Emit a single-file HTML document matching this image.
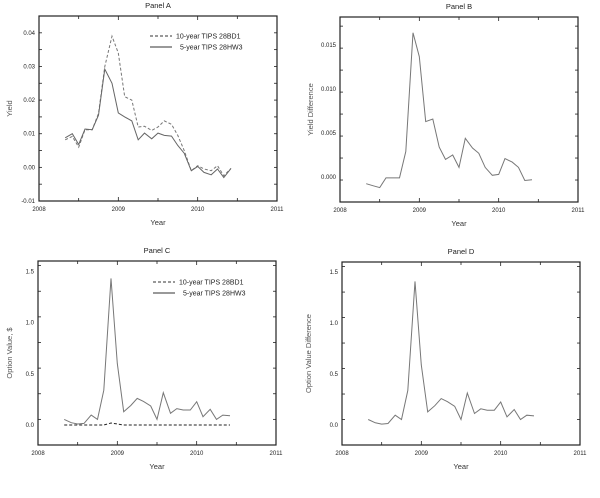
<!DOCTYPE html>
<html><head><meta charset="utf-8"><style>
body{margin:0;background:#fff;width:600px;height:493px;overflow:hidden}
svg{font-family:"Liberation Sans",sans-serif}
</style></head><body>
<svg id="c" width="600" height="493" viewBox="0 0 600 493"></svg>
<script>
const months = [2008.33,2008.42,2008.5,2008.58,2008.67,2008.75,2008.83,2008.92,2009.0,2009.08,2009.17,2009.25,2009.33,2009.42,2009.5,2009.58,2009.67,2009.75,2009.83,2009.92,2010.0,2010.08,2010.17,2010.25,2010.33,2010.42];
const yield5 = [0.0088,0.01,0.0068,0.0114,0.0112,0.0155,0.0292,0.025,0.0162,0.015,0.0138,0.0082,0.0102,0.0085,0.0102,0.0095,0.0093,0.0065,0.0042,-0.001,0.0003,-0.0015,-0.0022,-0.0005,-0.003,-0.0003];
const yield10 = [0.0082,0.0092,0.006,0.0112,0.0112,0.016,0.03,0.039,0.034,0.021,0.02,0.012,0.0122,0.011,0.012,0.0138,0.0128,0.0095,0.005,-0.001,0.0005,-0.0005,-0.001,0.0005,-0.0025,-0.0003];
const yieldDiff = [-0.00076,-0.001,-0.0012,-0.0001,-0.0001,-0.0001,0.0029,0.0164,0.0137,0.0063,0.0066,0.0034,0.002,0.0025,0.0011,0.0044,0.0033,0.0027,0.0011,0.0002,0.0003,0.0021,0.0017,0.0011,-0.0004,-0.0003];
const option5 = [0.055,0.023,0.01,0.016,0.097,0.055,0.34,1.43,0.6,0.13,0.19,0.26,0.23,0.185,0.055,0.315,0.114,0.16,0.146,0.146,0.227,0.081,0.153,0.055,0.097,0.09];
const option10 = [0,0,0,0,0,0,0,0.02,0.01,0,0,0,0,0,0,0,0,0,0,0,0,0,0,0,0,0];
const optionDiff = [0.055,0.023,0.01,0.016,0.097,0.055,0.34,1.41,0.59,0.13,0.19,0.26,0.23,0.185,0.055,0.315,0.114,0.16,0.146,0.146,0.227,0.081,0.153,0.055,0.097,0.09];
const xTicks = [2008,2009,2010,2011];
const ticksA = ["-0.01","0.00","0.01","0.02","0.03","0.04"];
const ticksB = ["0.000","0.005","0.010","0.015"];
const ticksC = ["0.0","0.5","1.0","1.5"];

const svg=document.getElementById('c');
const NS='http://www.w3.org/2000/svg';
function mk(t,a,txt){const e=document.createElementNS(NS,t);for(const k in a)e.setAttribute(k,a[k]);if(txt!==undefined)e.textContent=txt;svg.appendChild(e);return e;}

function panel(p){
  const xs=v=>p.l+(v-2008)/3*(p.r-p.l);
  const ys=v=>p.b-(v-p.y0)/(p.y1-p.y0)*(p.b-p.t);
  const fr=mk('rect',{x:p.l,y:p.t,width:p.r-p.l,height:p.b-p.t,fill:'none',stroke:'#222','stroke-width':1.2});
  
  
  const ti=mk('text',{x:(p.l+p.r)/2,y:p.t-8,'font-size':7.5,'text-anchor':'middle',fill:'#222'},p.title);
  
  
  for(let y=2008;y<=2011;y+=0.5){
    const x=xs(y), len=(y%1===0)?4:3;
    mk('line',{x1:x,x2:x,y1:p.t,y2:p.t+len,stroke:'#222','stroke-width':0.8});
    mk('line',{x1:x,x2:x,y1:p.b,y2:p.b-len,stroke:'#222','stroke-width':0.8});
  }
  xTicks.forEach(v=>{
    const t=mk('text',{x:xs(v),y:p.b+10,'font-size':6,'text-anchor':'middle',fill:'#222'},String(v));
    
    
  });
  for(let v=p.y0;v<=p.y1+1e-9;v+=p.minor){
    const y=ys(v);
    mk('line',{x1:p.l,x2:p.l+3,y1:y,y2:y,stroke:'#222','stroke-width':0.8});
    mk('line',{x1:p.r,x2:p.r-3,y1:y,y2:y,stroke:'#222','stroke-width':0.8});
  }
  p.ticks.forEach(s=>{
    const y=ys(parseFloat(s));
    const t=mk('text',{x:p.l-4,y:y+2,'font-size':6,'text-anchor':'end',fill:'#222'},s);
    
    
  });
  const xt=mk('text',{x:(p.l+p.r)/2,y:p.b+24,'font-size':7.5,'text-anchor':'middle',fill:'#333'},'Year');
  
  
  const yt=mk('text',{x:0,y:0,'font-size':7.5,'text-anchor':'middle',fill:'#555',transform:`translate(${p.ylx},${(p.t+p.b)/2}) rotate(-90)`},p.ylabel);
  
  
  p.series.forEach(s=>{
    const d=s.vals.map((v,i)=>(i?'L':'M')+xs(months[i]).toFixed(1)+','+ys(v).toFixed(1)).join('');
    const pa=mk('path',{d:d,fill:'none',stroke:s.color,'stroke-width':1,'stroke-dasharray':s.dash||'none'});
    
    
  });
  if(p.legend){
    [[0,'3,2','#333','10-year TIPS 28BD1'],[1,'none','#333','5-year TIPS 28HW3']].forEach(([i,da,c,txt])=>{
      const y=p.legend.y+i*11;
      mk('line',{x1:p.legend.x,x2:p.legend.x+22,y1:y,y2:y,stroke:c,'stroke-width':1,'stroke-dasharray':da});
      const t=mk('text',{x:p.legend.x+26+(i?4:0),y:y+2.5,'font-size':7,fill:'#222'},txt);
      
      
    });
  }
}
panel({id:'panel-a',title:'Panel A',l:39,r:277,t:16,b:201,y0:-0.01,y1:0.045,minor:0.005,ticks:ticksA,ylabel:'Yield',ylx:12,
  series:[{name:'yield-10yr-line',vals:yield10,color:'#777',dash:'3,2'},{name:'yield-5yr-line',vals:yield5,color:'#666'}],legend:{x:150,y:36}});
panel({id:'panel-b',title:'Panel B',l:340,r:578,t:17,b:202,y0:-0.00284,y1:0.0182,minor:0.0025,ticks:ticksB,ylabel:'Yield Difference',ylx:313,
  series:[{name:'yield-difference-line',vals:yieldDiff,color:'#777'}]});
panel({id:'panel-c',title:'Panel C',l:38,r:276,t:261,b:445,y0:-0.195,y1:1.6,minor:0.25,ticks:ticksC,ylabel:'Option Value, $',ylx:12,
  series:[{name:'option-10yr-line',vals:option10,color:'#222',dash:'3,2'},{name:'option-5yr-line',vals:option5,color:'#777'}],legend:{x:153,y:282}});
panel({id:'panel-d',title:'Panel D',l:342,r:580,t:262,b:445,y0:-0.195,y1:1.6,minor:0.25,ticks:ticksC,ylabel:'Option Value Difference',ylx:311,
  series:[{name:'option-difference-line',vals:optionDiff,color:'#777'}]});
</script>
</body></html>
